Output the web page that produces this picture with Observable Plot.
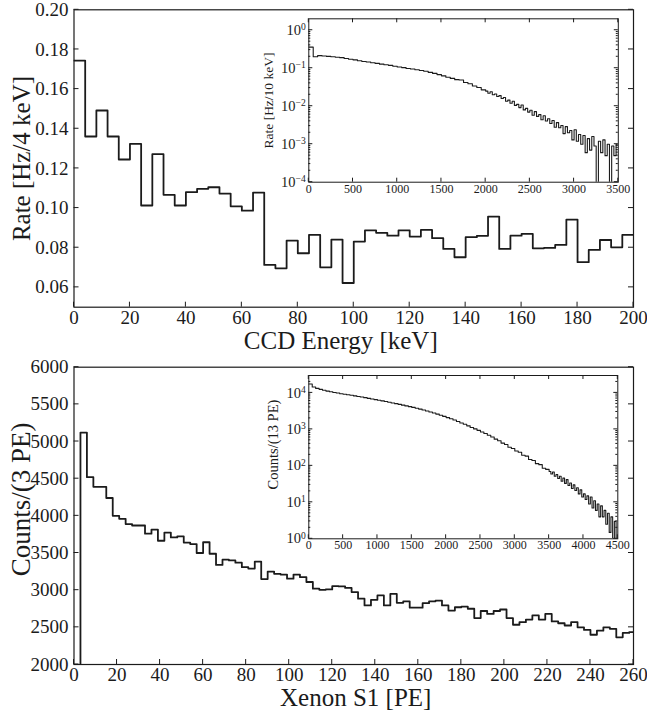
<!DOCTYPE html>
<html><head><meta charset="utf-8">
<script src="https://cdn.jsdelivr.net/npm/d3@7"></script>
<script src="https://cdn.jsdelivr.net/npm/@observablehq/plot@0.6"></script>
<style>
body{margin:0;background:#fff;}
#wrap{position:relative;width:647px;height:714px;overflow:hidden;}
#wrap svg{position:absolute;overflow:visible;}
#wrap svg, #wrap svg text, #wrap svg g{font-family:"Liberation Serif","Times New Roman",serif !important;font-variant:normal !important;font-variant-numeric:normal !important;}
</style></head><body><div id="wrap"></div>
<script>
// ---------- DATA ----------
// Top panel: CCD energy spectrum, 4 keV bins from 0 to 200 keV
const ccdBinWidth = 4;
const ccdRate = [0.1744,0.1361,0.1492,0.1361,0.1245,0.1324,0.1013,0.1272,0.1067,0.1013,
  0.1080,0.1097,0.1105,0.1073,0.1009,0.0987,0.1078,0.0713,0.0696,0.0836,
  0.0772,0.0865,0.0701,0.0841,0.0622,0.0831,0.0887,0.0875,0.0861,0.0887,
  0.0856,0.0890,0.0848,0.0794,0.0752,0.0853,0.0860,0.0957,0.0794,0.0861,
  0.0870,0.0797,0.0799,0.0814,0.0942,0.0727,0.0789,0.0839,0.0802,0.0865];
const ccdXTicks = [0,20,40,60,80,100,120,140,160,180,200];
const ccdYTicks = [0.06,0.08,0.10,0.12,0.14,0.16,0.18,0.20];

// Top inset: full CCD spectrum (Rate per 10 keV), coarse bins 0-2000, finer tail 2000-3500
const ccdInsetLoWidth = 50;
const ccdInsetLo = [0.36,0.20,0.215,0.21,0.205,0.20,0.195,0.19,0.18,0.172,
  0.166,0.158,0.151,0.146,0.14,0.134,0.128,0.124,0.119,0.113,
  0.108,0.104,0.098,0.095,0.091,0.087,0.083,0.078,0.073,0.068,
  0.063,0.058,0.054,0.050,0.049,0.042,0.039,0.034,0.031,0.027];
const ccdInsetTailStart = 2000, ccdInsetTailWidth = 25;
const ccdInsetTail = [0.025,0.022,0.024,0.020,0.021,0.018,0.019,0.016,0.017,0.0135,
  0.0145,0.012,0.0135,0.0105,0.0112,0.0092,0.0108,0.0080,0.0088,0.0070,
  0.0078,0.0058,0.0072,0.0054,0.0060,0.0044,0.0056,0.0041,0.0047,0.0035,
  0.0042,0.0028,0.0037,0.0027,0.0031,0.0019,0.0029,0.0020,0.0023,0.0013,
  0.0024,0.0012,0.0018,0.0010,0.0017,0.0006,0.0014,0.0007,0.0016,0.0009,
  0,0.0012,0.0006,0.0013,0.0005,0.0010,0,0.0009,0.0005,0.0010];
const ccdInsetXTicks = [0,500,1000,1500,2000,2500,3000,3500];
const ccdInsetYTicks = [1e-4,1e-3,1e-2,1e-1,1];

// Bottom panel: Xenon S1 spectrum, 3 PE bins from 0 to 261 PE
const s1BinWidth = 3;
const s1Counts = [0,5120,4520,4390,4390,4240,4000,3960,3890,3870,
  3870,3760,3815,3665,3775,3710,3725,3640,3620,3500,
  3645,3490,3340,3410,3400,3370,3310,3290,3385,3150,
  3250,3220,3210,3155,3210,3175,3110,3020,3005,3010,
  3055,3050,3030,2975,2885,2795,2870,2930,2795,2950,
  2830,2850,2765,2765,2825,2850,2860,2795,2725,2770,
  2780,2750,2625,2720,2680,2720,2740,2625,2535,2570,
  2605,2660,2605,2680,2580,2555,2525,2570,2500,2465,
  2400,2455,2500,2480,2365,2425,2435];
const s1XTicks = [0,20,40,60,80,100,120,140,160,180,200,220,240,260];
const s1YTicks = [2000,2500,3000,3500,4000,4500,5000,5500,6000];

// Bottom inset: full S1 spectrum (Counts per 13 PE)
const s1InsetLoWidth = 50;
const s1InsetLo = [17500,14500,13300,12500,11800,11200,10800,10300,9900,9500,
  9200,8900,8600,8300,8000,7700,7400,7100,6800,6550,
  6300,6050,5800,5550,5300,5080,4850,4620,4400,4200,
  4000,3800,3600,3400,3200,3000,2800,2620,2450,2270,
  2100,1950,1800,1650,1500,1380,1250,1130,1030,940,
  850,770,690,620,540,490,420,385,325,300,
  255,235,195,185,150,140,115,108,86,80];
const s1InsetTailStart = 3500, s1InsetTailWidth = 25;
const s1InsetTail = [70,60,68,52,58,45,52,38,46,33,
  42,29,34,24,30,21,25,17,22,14,
  17,12,15,9,14,7,11,6,9,4,
  8,4,6,2.5,5,1.5,4,1,3,1];
const s1InsetXTicks = [0,500,1000,1500,2000,2500,3000,3500,4000,4500];
const s1InsetYTicks = [1,10,100,1000,10000];

// ---------- HELPERS ----------
const INK = "#1b1b1b";
const SERIF = "'Liberation Serif','Times New Roman',serif";
const NS = "http://www.w3.org/2000/svg";

function steps(values, width, start = 0) {
  return values.map((v, i) => ({x: start + i * width, y: v}));
}
function closeSteps(pts, end) {
  pts.push({x: end, y: pts[pts.length - 1].y});
  return pts;
}
function minorLog(lo, hi) {
  const out = [];
  for (let e = Math.floor(Math.log10(lo)); e <= Math.ceil(Math.log10(hi)); e++)
    for (let m = 2; m <= 9; m++) { const v = m * Math.pow(10, e); if (v > lo && v < hi) out.push(v); }
  return out;
}
function innerTicks({x = [], y = [], yMinor = [], size = 5, minor = 2.5, sides = "lbr", sw = 1}) {
  return (index, scales, values, dims) => {
    const {width, height, marginLeft, marginRight, marginTop, marginBottom} = dims;
    const L = marginLeft, R = width - marginRight, T = marginTop, B = height - marginBottom;
    let d = "";
    for (const v of x) {
      const px = scales.x(v);
      if (sides.includes("b")) d += `M${px},${B}v${-size}`;
      if (sides.includes("t")) d += `M${px},${T}v${size}`;
    }
    const addY = (v, s) => {
      const py = scales.y(v);
      if (sides.includes("l")) d += `M${L},${py}h${s}`;
      if (sides.includes("r")) d += `M${R},${py}h${-s}`;
    };
    y.forEach(v => addY(v, size));
    yMinor.forEach(v => addY(v, minor));
    const p = document.createElementNS(NS, "path");
    p.setAttribute("d", d);
    p.setAttribute("stroke", INK);
    p.setAttribute("stroke-width", sw);
    p.setAttribute("fill", "none");
    return p;
  };
}
function superscriptify(svg) {
  svg.querySelectorAll('g[aria-label="y-axis tick label"] text').forEach(t => {
    const m = /^10\^(.+)$/.exec(t.textContent);
    if (!m) return;
    t.textContent = "10";
    const s = document.createElementNS(NS, "tspan");
    s.setAttribute("dy", "-0.5em");
    s.setAttribute("font-size", "0.66em");
    s.textContent = m[1];
    t.appendChild(s);
  });
}
const expFmt = d => "10^" + String(Math.round(Math.log10(d))).replace("-", "\u2212");
const baseStyle = () => `font-family:${SERIF};background:transparent;color:${INK};`;
const wrap = document.getElementById("wrap");
function place(el, left, topPx) {
  el.style.left = left + "px"; el.style.top = topPx + "px";
  el.style.position = "absolute";
  wrap.appendChild(el);
}
const axisOpts = {tickSize: 0, label: null, fontVariant: "normal"};
const vTitle = (txt, opts) => Plot.text([txt], {text: d => d, frameAnchor: "left", rotate: -90, textAnchor: "middle", lineAnchor: "middle", ...opts});
const hTitle = (txt, opts) => Plot.text([txt], {text: d => d, frameAnchor: "bottom", textAnchor: "middle", lineAnchor: "middle", ...opts});

// ---------- TOP MAIN ----------
const ccdData = closeSteps(steps(ccdRate, ccdBinWidth), ccdRate.length * ccdBinWidth);
const ccdMain = Plot.plot({
  width: 647, height: 357,
  marginLeft: 73.5, marginRight: 14, marginTop: 9.3, marginBottom: 50.3,
  style: baseStyle(),
  x: {domain: [0, 200]},
  y: {domain: [0.05, 0.20]},
  marks: [
    Plot.line(ccdData, {x: "x", y: "y", curve: "step-after", stroke: INK, strokeWidth: 1.8, clip: true}),
    Plot.frame({stroke: INK, strokeWidth: 1.2}),
    innerTicks({x: ccdXTicks, y: ccdYTicks, size: 5, sides: "lbr"}),
    Plot.axisX(ccdXTicks, {...axisOpts, tickPadding: 3, fontSize: 19, tickFormat: d => String(d)}),
    Plot.axisY(ccdYTicks, {...axisOpts, tickPadding: 5.5, fontSize: 19, tickFormat: d => d.toFixed(2)}),
    hTitle("CCD Energy [keV]", {dy: 34, dx: -13, fontSize: 25}),
    vTitle("Rate [Hz/4 keV]", {dx: -52, fontSize: 25})
  ]
});
place(ccdMain, 0, 0);

// ---------- TOP INSET ----------
const ccdInsetData = closeSteps(
  steps(ccdInsetLo, ccdInsetLoWidth).concat(steps(ccdInsetTail, ccdInsetTailWidth, ccdInsetTailStart)),
  ccdInsetTailStart + ccdInsetTail.length * ccdInsetTailWidth);
const ccdInset = Plot.plot({
  width: 390, height: 192,
  marginLeft: 58.3, marginTop: 8.3, marginRight: 22.2, marginBottom: 20.3,
  style: baseStyle(),
  x: {domain: [0, 3500]},
  y: {type: "log", domain: [1e-4, 2]},
  marks: [
    Plot.line(ccdInsetData, {x: "x", y: d => Math.max(d.y, 1e-6), curve: "step-after", stroke: INK, strokeWidth: 1.1, clip: true}),
    Plot.frame({stroke: INK, strokeWidth: 1}),
    innerTicks({x: ccdInsetXTicks, y: ccdInsetYTicks, yMinor: minorLog(1e-4, 2), size: 4, minor: 2, sides: "lbrt"}),
    Plot.axisX(ccdInsetXTicks, {...axisOpts, tickPadding: 2, fontSize: 12, tickFormat: d => String(d)}),
    Plot.axisY(ccdInsetYTicks, {...axisOpts, tickPadding: 3, fontSize: 14.5, tickFormat: expFmt}),
    vTitle("Rate [Hz/10 keV]", {dx: -40.3, fontSize: 13.5})
  ]
});
superscriptify(ccdInset);
place(ccdInset, 250, 10);

// ---------- BOTTOM MAIN ----------
const s1Data = closeSteps(steps(s1Counts, s1BinWidth), s1Counts.length * s1BinWidth);
const s1Main = Plot.plot({
  width: 647, height: 357,
  marginLeft: 73.5, marginRight: 14, marginTop: 9.7, marginBottom: 50,
  style: baseStyle(),
  x: {domain: [0, 260]},
  y: {domain: [2000, 6000]},
  marks: [
    Plot.line(s1Data, {x: "x", y: "y", curve: "step-after", stroke: INK, strokeWidth: 1.8, clip: true}),
    Plot.frame({stroke: INK, strokeWidth: 1.2}),
    innerTicks({x: s1XTicks, y: s1YTicks, size: 5, sides: "lbr"}),
    Plot.axisX(s1XTicks, {...axisOpts, tickPadding: 3, fontSize: 19, tickFormat: d => String(d)}),
    Plot.axisY(s1YTicks, {...axisOpts, tickPadding: 5.5, fontSize: 19, tickFormat: d => String(d)}),
    hTitle("Xenon S1 [PE]", {dy: 33, dx: 2, fontSize: 25}),
    vTitle("Counts/(3 PE)", {dx: -53, dy: -16.5, fontSize: 27})
  ]
});
place(s1Main, 0, 357);

// ---------- BOTTOM INSET ----------
const s1InsetData = closeSteps(
  steps(s1InsetLo, s1InsetLoWidth).concat(steps(s1InsetTail, s1InsetTailWidth, s1InsetTailStart)),
  s1InsetTailStart + s1InsetTail.length * s1InsetTailWidth);
const s1Inset = Plot.plot({
  width: 390, height: 192,
  marginLeft: 58.3, marginTop: 10, marginRight: 22.7, marginBottom: 18.7,
  style: baseStyle(),
  x: {domain: [0, 4500]},
  y: {type: "log", domain: [1, 3e4]},
  marks: [
    Plot.line(s1InsetData, {x: "x", y: d => Math.max(d.y, 0.1), curve: "step-after", stroke: INK, strokeWidth: 1.1, clip: true}),
    Plot.frame({stroke: INK, strokeWidth: 1}),
    innerTicks({x: s1InsetXTicks, y: s1InsetYTicks, yMinor: minorLog(1, 3e4), size: 4, minor: 2, sides: "lbrt"}),
    Plot.axisX(s1InsetXTicks, {...axisOpts, tickPadding: 2, fontSize: 12, tickFormat: d => String(d)}),
    Plot.axisY(s1InsetYTicks, {...axisOpts, tickPadding: 3, fontSize: 14.5, tickFormat: expFmt}),
    vTitle("Counts/(13 PE)", {dx: -35.3, dy: -12.6, fontSize: 14.5})
  ]
});
superscriptify(s1Inset);
place(s1Inset, 250, 365);
</script></body></html>
